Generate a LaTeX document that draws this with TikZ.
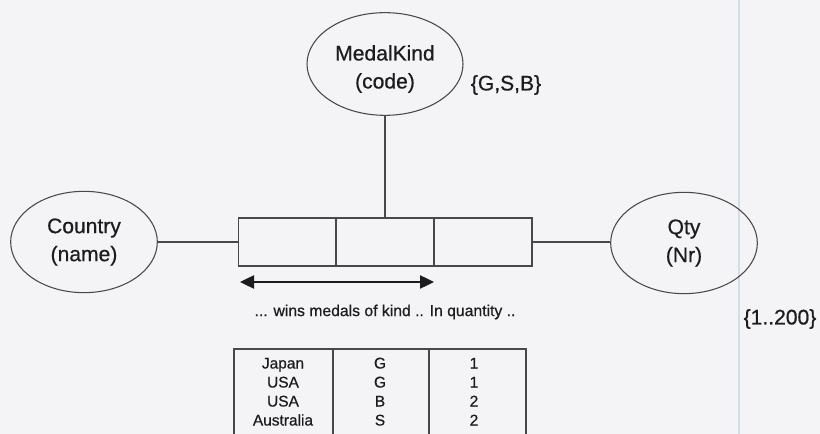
\documentclass[tikz,border=0pt]{standalone}
\usepackage{fontspec}
\setmainfont{Liberation Sans}[FakeBold=0.6]
\usetikzlibrary{shapes.geometric,arrows.meta}
\definecolor{paper}{RGB}{244,244,247}
\definecolor{ink}{RGB}{72,72,76}
\definecolor{txt}{RGB}{28,28,30}
\definecolor{seam}{RGB}{214,220,234}
\begin{document}
\begin{tikzpicture}[x=0.75pt,y=-0.75pt,
  entity/.style={ellipse, draw=ink, line width=0.8pt, inner sep=0pt,
    align=center, text=txt, font=\fontsize{15.8}{21}\selectfont},
  entitytext/.style={inner sep=0pt, align=center, text=txt,
    font=\fontsize{15.8}{21}\selectfont},
  cellbox/.style={rectangle, draw=ink, line width=0.8pt,
    minimum width=73.5pt, minimum height=36pt, inner sep=0pt},
  tablecol/.style={rectangle, draw=ink, line width=0.8pt,
    minimum height=72pt, inner sep=0pt},
  link/.style={draw=ink, line width=0.8pt},
  valueset/.style={text=txt, inner sep=0pt, font=\fontsize{15.8}{18}\selectfont},
  readingtext/.style={text=txt, inner sep=0pt, font=\fontsize{11.8}{14}\selectfont},
  celltext/.style={text=txt, inner sep=0pt, anchor=base,
    font=\fontsize{11.6}{14}\selectfont},
  rolearrow/.tip={Triangle[length=10.5pt,width=10pt]}]

% paper and its faint seam
\fill[paper] (0,0) rectangle (820,434);
\clip (0,0) rectangle (820,434);
\draw[seam, line width=0.8pt] (739,0) -- (739,434);

% object types
\node[entity, minimum width=117pt, minimum height=77pt] (medal) at (385,64) {};
\node[entitytext] (medal-name) at (385,69) {MedalKind\\(code)};
\node[entity, minimum width=110pt, minimum height=76pt] (country) at (84,242) {Country\\(name)};
\node[entity, minimum width=110pt, minimum height=76pt] (qty) at (684,243) {Qty\\(Nr)};

% fact type with three roles
\node[cellbox] (c1) at (287.5,242) {};
\node[cellbox] (c2) at (385,242) {};
\node[cellbox] (c3) at (483,242) {};

\draw[link] (country.east) -- (c1.west);
\draw[link] (c3.east) -- (c3.east -| qty.west);
\draw[link] (medal.south) -- (medal.south |- c2.north);

% uniqueness arrow over the first two roles
\coordinate (arrowL) at (240,282);
\coordinate (arrowR) at (434,282);
\draw[link, draw=txt, line width=0.9pt, {rolearrow}-{rolearrow}] (arrowL) -- (arrowR);

% value constraints and reading
\node[valueset] (kinds) at (506,85) {\{G,S,B\}};
\node[valueset] (range) at (780,319) {\{1..200\}};
\node[readingtext] (reading) at (385,312) {... wins medals of kind .. In quantity ..};

% sample population
\node[tablecol, minimum width=74.25pt] (t1) at (283.5,397) {};
\node[tablecol, minimum width=72pt] (t2) at (381,397) {};
\node[tablecol, minimum width=72.75pt] (t3) at (477.5,397) {};
\foreach \who/\kind/\num [count=\i] in {Japan/G/1, USA/G/1, USA/B/2, Australia/S/2} {
  \node[celltext] (who-\i) at (283,{349.5+19*\i}) {\who};
  \node[celltext] (kind-\i) at (380,{349.5+19*\i}) {\kind};
  \node[celltext] (num-\i) at (474,{349.5+19*\i}) {\num};
}
\end{tikzpicture}
\end{document}
